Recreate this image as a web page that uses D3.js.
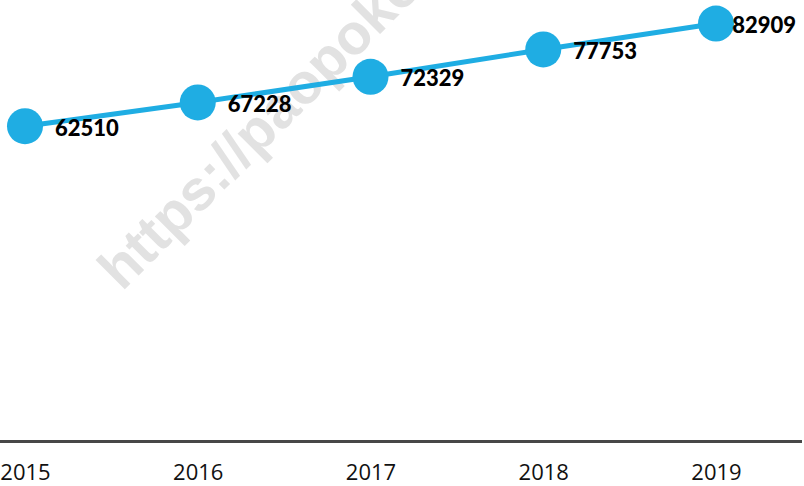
<!DOCTYPE html>
<html><head><meta charset="utf-8">
<script src="https://cdn.jsdelivr.net/npm/d3@7"></script>
<style>html,body{margin:0;padding:0;background:#fff;overflow:hidden}</style>
</head><body>
<svg id="chart" width="804" height="486"></svg>
<script>
const years = ["2015","2016","2017","2018","2019"];
const values = [62510, 67228, 72329, 77753, 82909];
const watermark = "https://paopoko.com";

const W = 804, H = 486;
const svg = d3.select("#chart");

const x = d3.scalePoint().domain(years).range([25, 716]);
const y = d3.scaleLinear().domain([0, 90000]).range([441, 441 - 453.2]);

// watermark
svg.append("text")
  .attr("transform", "translate(122,292) rotate(-45)")
  .attr("font-family", "Liberation Sans, Arial, sans-serif")
  .attr("font-weight", "bold")
  .attr("font-size", 57)
  .attr("fill", "#e2e2e2")
  .text(watermark);

// x axis
const xAxis = d3.axisBottom(x).tickSize(0).tickPadding(0);
const gx = svg.append("g").attr("transform", `translate(0,${y(0)})`).call(xAxis);
gx.select(".domain").remove();
gx.append("line").attr("x1", 0).attr("x2", 802).attr("y1", 0.5).attr("y2", 0.5)
  .attr("stroke", "#474747").attr("stroke-width", 3);
gx.selectAll(".tick text")
  .attr("font-family", "'Open Sans', sans-serif")
  .attr("font-size", 22)
  .attr("fill", "#111")
  .attr("dy", null)
  .attr("y", 39);

const data = years.map((yr, i) => ({yr, v: values[i]}));

svg.append("path").datum(data)
  .attr("fill", "none").attr("stroke", "#1fade3").attr("stroke-width", 5)
  .attr("d", d3.line().x(d => x(d.yr)).y(d => y(d.v)));

svg.selectAll("circle.pt").data(data).join("circle")
  .attr("class", "pt")
  .attr("cx", d => x(d.yr)).attr("cy", d => y(d.v)).attr("r", 18)
  .attr("fill", "#1fade3");

const labels = svg.selectAll("text.lbl").data(data).join("text")
  .attr("class", "lbl")
  .attr("font-family", "Lato, sans-serif")
  .attr("font-weight", 900)
  .attr("font-size", 22)
  .attr("fill", "#000")
  .attr("dominant-baseline", "central")
  .attr("y", d => y(d.v) + 1)
  .text(d => d.v);
labels.each(function(d) {
  const w = this.getComputedTextLength();
  const px = Math.min(x(d.yr) + 30, 796 - w);
  d3.select(this).attr("x", px);
});
</script>
</body></html>
